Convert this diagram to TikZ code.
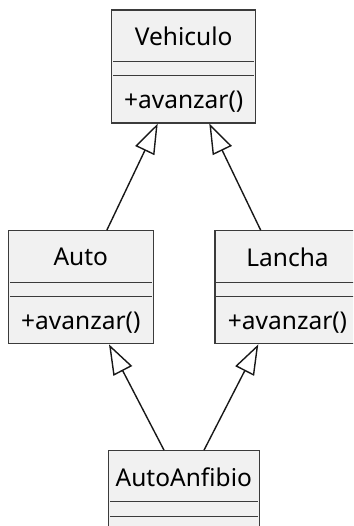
\documentclass[tikz,border=0pt]{standalone}
\usepackage{fontspec}
\setmainfont{Noto Sans}
\usetikzlibrary{arrows.meta}
\definecolor{clsfill}{HTML}{F1F1F1}
\definecolor{clsline}{HTML}{181818}
\tikzset{
  cls/.style={draw=clsline!85, fill=clsfill, line width=1.1pt, rectangle, inner sep=0pt,
              minimum width=145pt, minimum height=113pt},
  clsname/.style={inner sep=0pt, font=\fontsize{24.5}{28}\selectfont},
  clsmeth/.style={inner sep=0pt, font=\fontsize{24.5}{28}\selectfont},
  sepline/.style={draw=clsline!85, line width=0.9pt},
  inherit/.style={draw=clsline, line width=1.4pt,
                  -{Triangle[open, length=30pt, width=21pt, line width=1.4pt]}}
}
\begin{document}
\begin{tikzpicture}[x=1pt, y=-1pt]
  \useasboundingbox (0,0) rectangle (353,526);
  \clip (0,0) rectangle (353,526);

  % class boxes
  \node[cls, minimum width=144pt] (veh) at (183.7,66.5) {};
  \node[cls] (auto) at (80.8,287.3) {};
  \node[cls] (lancha) at (287.5,287.3) {};
  \node[cls, minimum width=151pt] (anf) at (183.8,507.2) {};

  % names and operations
  \node[clsname] (vehN) at ([yshift=-27pt]veh.north) {Vehiculo};
  \node[clsmeth] (vehM) at ([yshift=-92pt]veh.north) {+avanzar()};
  \node[clsname] (autoN) at ([yshift=-27pt]auto.north) {Auto};
  \node[clsmeth] (autoM) at ([yshift=-92pt]auto.north) {+avanzar()};
  \node[clsname] (lanchaN) at ([yshift=-27pt]lancha.north) {Lancha};
  \node[clsmeth] (lanchaM) at ([yshift=-92pt]lancha.north) {+avanzar()};
  \node[clsname] (anfN) at ([yshift=-27pt]anf.north) {AutoAnfibio};

  % compartment separators
  \foreach \b in {veh, auto, lancha, anf}{
    \draw[sepline] ([shift={(2pt,-51.7pt)}]\b.north west) -- ([shift={(-2pt,-51.7pt)}]\b.north east);
    \draw[sepline] ([shift={(2pt,-66pt)}]\b.north west) -- ([shift={(-2pt,-66pt)}]\b.north east);
  }

  % generalizations
  \draw[inherit] ([xshift=26pt]auto.north) -- ([xshift=-26pt]veh.south);
  \draw[inherit] ([xshift=-26.8pt]lancha.north) -- ([xshift=25.6pt]veh.south);
  \draw[inherit] ([xshift=-19.8pt]anf.north) -- ([xshift=28.2pt]auto.south);
  \draw[inherit] ([xshift=20.2pt]anf.north) -- ([xshift=-29.2pt]lancha.south);
\end{tikzpicture}
\end{document}
